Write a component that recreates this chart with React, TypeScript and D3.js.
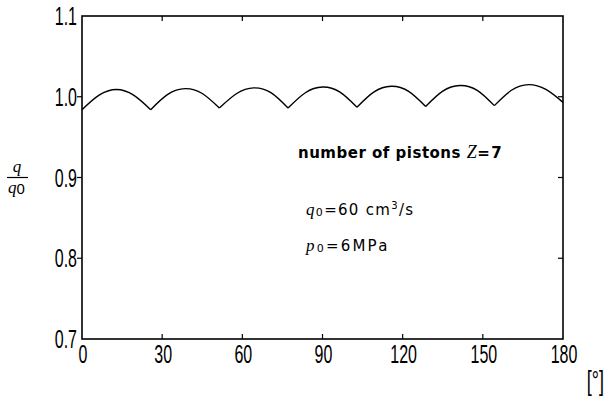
import React from 'react';
import * as d3 from 'd3';

// flow ripple of a 7-piston pump
const angle = [
  0, 6.4, 12.9, 19.3,
  25.7, 32.1, 38.6, 45.0,
  51.4, 57.9, 64.3, 70.7,
  77.1, 83.6, 90.0, 96.4,
  102.9, 109.3, 115.7, 122.1,
  128.6, 135.0, 141.4, 147.9,
  154.3, 160.7, 167.1, 173.6,
  180,
];
const ratio = [
  0.984, 1.002, 1.009, 1.002,
  0.984, 1.003, 1.010, 1.004,
  0.986, 1.004, 1.011, 1.005,
  0.986, 1.005, 1.012, 1.006,
  0.987, 1.006, 1.013, 1.007,
  0.988, 1.007, 1.014, 1.008,
  0.989, 1.008, 1.015, 1.009,
  0.993,
];
const pointsPerArch = 4;

const xTicks = [0, 30, 60, 90, 120, 150, 180];
const yTicks = [0.7, 0.8, 0.9, 1.0, 1.1];

const W = 607;
const H = 398;
const left = 82;
const right = 563;
const top = 16;
const bottom = 339;

const tickFont = '"Liberation Sans", Arial, sans-serif';
const textFont = '"DejaVu Sans", sans-serif';
const mathFont = '"Liberation Serif", "Times New Roman", serif';

export default function App() {
  const x = d3.scaleLinear().domain([0, 180]).range([left, right]);
  const y = d3.scaleLinear().domain([0.7, 1.1]).range([bottom, top]);

  const line = d3
    .line<number>()
    .x((i) => x(angle[i]))
    .y((i) => y(ratio[i]))
    .curve(d3.curveNatural);

  const arches: number[][] = [];
  for (let s = 0; s + pointsPerArch < angle.length; s += pointsPerArch) {
    arches.push(d3.range(s, s + pointsPerArch + 1));
  }

  return (
    <svg width={W} height={H} style={{ position: 'absolute', left: 0, top: 0, background: '#fff' }}>
      <rect x={0} y={0} width={W} height={H} fill="#fff" />

      {/* frame */}
      <rect x={left} y={top} width={right - left} height={bottom - top} fill="none" stroke="#000" strokeWidth={1.6} />

      {/* x ticks, bottom and top, pointing inward */}
      {xTicks.slice(1, -1).map((t) => (
        <g key={'xt' + t}>
          <line x1={x(t)} x2={x(t)} y1={bottom} y2={bottom - 5} stroke="#000" strokeWidth={1.2} />
          <line x1={x(t)} x2={x(t)} y1={top} y2={top + 5} stroke="#000" strokeWidth={1.2} />
        </g>
      ))}
      {/* y ticks: left outward, right inward */}
      {yTicks.slice(1, -1).map((t) => (
        <g key={'yt' + t}>
          <line x1={left - 5} x2={left} y1={y(t)} y2={y(t)} stroke="#000" strokeWidth={1.2} />
          <line x1={right - 5} x2={right} y1={y(t)} y2={y(t)} stroke="#000" strokeWidth={1.2} />
        </g>
      ))}

      {xTicks.map((t) => (
        <text
          key={'xl' + t}
          transform={`translate(${x(t) + 1},${bottom + 24}) scale(0.64,1)`}
          textAnchor="middle"
          fontFamily={tickFont}
          fontSize={25}
        >
          {t}
        </text>
      ))}
      {yTicks.map((t) => (
        <text
          key={'yl' + t}
          transform={`translate(${left - 5},${y(t) + 9}) scale(0.64,1)`}
          textAnchor="end"
          fontFamily={tickFont}
          fontSize={25}
        >
          {t.toFixed(1)}
        </text>
      ))}

      {/* unit */}
      <text transform={`translate(${W - 3},${H - 8}) scale(0.64,1)`} textAnchor="end" fontFamily={tickFont} fontSize={28}>
        [°]
      </text>

      {/* y label q / q0 */}
      <text x={17} y={172} textAnchor="middle" fontFamily={mathFont} fontStyle="italic" fontSize={17}>
        q
      </text>
      <line x1={7} x2={28} y1={177.5} y2={177.5} stroke="#000" strokeWidth={1.2} />
      <text x={8} y={193} fontFamily={mathFont} fontStyle="italic" fontSize={17}>
        q
        <tspan fontFamily={tickFont} fontStyle="normal" fontSize={15} dy={1}>
          0
        </tspan>
      </text>

      {/* curve */}
      {arches.map((a, k) => (
        <path key={'arch' + k} d={line(a) ?? ''} fill="none" stroke="#000" strokeWidth={1.4} />
      ))}

      {/* annotations */}
      <text x={298} y={158} fontFamily={textFont} fontWeight="bold" fontSize={15} letterSpacing={0.5}>
        number of pistons{' '}
        <tspan fontFamily={mathFont} fontStyle="italic" fontWeight="normal" fontSize={18}>
          Z
        </tspan>
        <tspan letterSpacing={1.5}>=7</tspan>
      </text>
      <text x={306} y={215} fontFamily={textFont} fontSize={15} letterSpacing={1.3}>
        <tspan fontFamily={mathFont} fontStyle="italic" fontSize={17}>
          q
        </tspan>
        <tspan fontSize={11} dy={1}>
          0
        </tspan>
        <tspan dy={-1}>=60 cm</tspan>
        <tspan fontSize={10} dy={-6}>
          3
        </tspan>
        <tspan dy={6}>/s</tspan>
      </text>
      <text x={306} y={251} fontFamily={textFont} fontSize={15} letterSpacing={2.2}>
        <tspan fontFamily={mathFont} fontStyle="italic" fontSize={17}>
          p
        </tspan>
        <tspan fontSize={11} dy={1}>
          0
        </tspan>
        <tspan dy={-1}>=6MPa</tspan>
      </text>
    </svg>
  );
}
